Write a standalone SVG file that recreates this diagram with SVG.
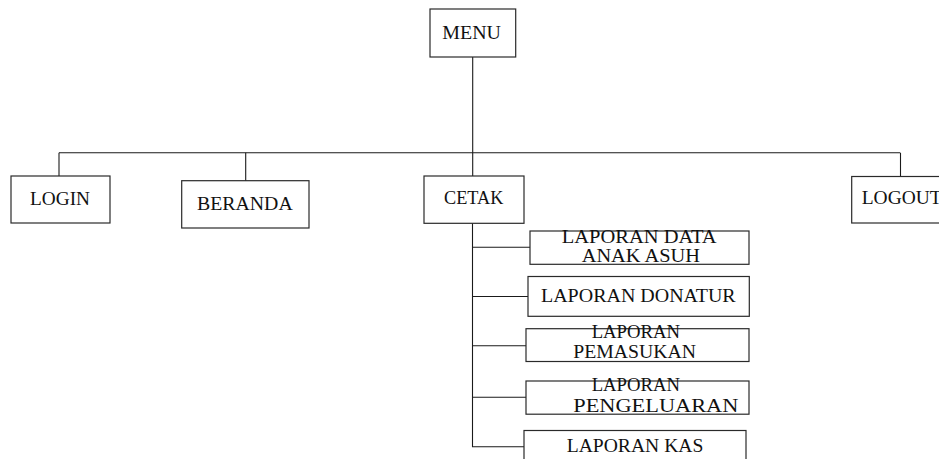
<svg xmlns="http://www.w3.org/2000/svg" width="939" height="459" viewBox="0 0 939 459">
<style>
.box{fill:#fff;stroke:#2a2a2a;stroke-width:1.2}
.ln{fill:none;stroke:#1a1a1a;stroke-width:1.1}
text{font-family:"Liberation Serif","Times New Roman",serif;font-size:18px;fill:#111}
</style>
<rect width="939" height="459" fill="#fff"/>
<g id="connectors">
<path class="ln" d="M472.7 57V176"/>
<path class="ln" d="M59 152.7H900"/>
<path class="ln" d="M59 152.7V176"/>
<path class="ln" d="M245.7 152.7V181"/>
<path class="ln" d="M900.5 152.7V176"/>
<path class="ln" d="M472.5 223V446.7H524"/>
<path class="ln" d="M472.5 247.3H530"/>
<path class="ln" d="M472.5 296.5H528"/>
<path class="ln" d="M472.5 345.7H526"/>
<path class="ln" d="M472.5 397.3H526"/>
</g>
<g id="menu"><rect class="box" x="430" y="9" width="85.7" height="48"/><text x="442.3" y="39" textLength="58.7" lengthAdjust="spacingAndGlyphs">MENU</text></g>
<g id="login"><rect class="box" x="11" y="176" width="99" height="47"/><text x="30" y="205" textLength="60" lengthAdjust="spacingAndGlyphs">LOGIN</text></g>
<g id="beranda"><rect class="box" x="181.7" y="180.7" width="127.3" height="47.3"/><text x="197" y="210" textLength="95.7" lengthAdjust="spacingAndGlyphs">BERANDA</text></g>
<g id="cetak"><rect class="box" x="424" y="176" width="100" height="47.3"/><text x="444" y="204" textLength="59.3" lengthAdjust="spacingAndGlyphs">CETAK</text></g>
<g id="logout"><rect class="box" x="851.7" y="176.5" width="120" height="46.5"/><text x="861.7" y="203.5" textLength="80" lengthAdjust="spacingAndGlyphs">LOGOUT</text></g>
<g id="lap-data"><rect class="box" x="530" y="231" width="219" height="33.3"/><text x="561.7" y="243" textLength="155" lengthAdjust="spacingAndGlyphs">LAPORAN DATA</text><text x="581.7" y="262.3" textLength="118.3" lengthAdjust="spacingAndGlyphs">ANAK ASUH</text></g>
<g id="lap-donatur"><rect class="box" x="528" y="276.5" width="221.3" height="39.8"/><text x="541" y="302" textLength="194.7" lengthAdjust="spacingAndGlyphs">LAPORAN DONATUR</text></g>
<g id="lap-pemasukan"><rect class="box" x="526" y="328.7" width="223" height="32.8"/><text x="591.7" y="338.3" textLength="88.3" lengthAdjust="spacingAndGlyphs">LAPORAN</text><text x="573.3" y="358.3" textLength="122.7" lengthAdjust="spacingAndGlyphs">PEMASUKAN</text></g>
<g id="lap-pengeluaran"><rect class="box" x="526" y="381" width="223" height="33.2"/><text x="591.7" y="390.7" textLength="88.3" lengthAdjust="spacingAndGlyphs">LAPORAN</text><text x="573.3" y="412.3" textLength="165" lengthAdjust="spacingAndGlyphs">PENGELUARAN</text></g>
<g id="lap-kas"><rect class="box" x="524" y="430.5" width="222" height="40"/><text x="566.7" y="451.7" textLength="136.7" lengthAdjust="spacingAndGlyphs">LAPORAN KAS</text></g>
</svg>
